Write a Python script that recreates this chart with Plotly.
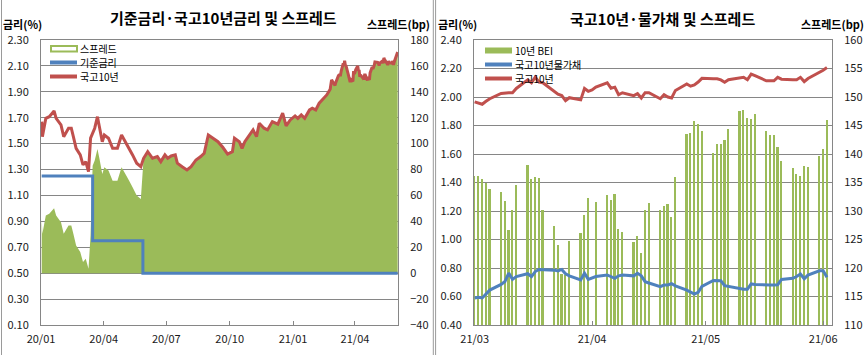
import plotly.graph_objects as go

# ---------------- data: left panel ----------------
ktb_dates_a = [
    "2020-01-02", "2020-01-03", "2020-01-08", "2020-01-13", "2020-01-20", "2020-01-23",
    "2020-01-30", "2020-02-03", "2020-02-10", "2020-02-14", "2020-02-17", "2020-02-21",
    "2020-02-27", "2020-03-02", "2020-03-06", "2020-03-10", "2020-03-13", "2020-03-16",
    "2020-03-19", "2020-03-23", "2020-03-26", "2020-03-30", "2020-04-02", "2020-04-08",
    "2020-04-14", "2020-04-21", "2020-04-27", "2020-05-04", "2020-05-08", "2020-05-13",
    "2020-05-19", "2020-05-25", "2020-05-29", "2020-06-04", "2020-06-11", "2020-06-18",
    "2020-06-23", "2020-06-29", "2020-07-03", "2020-07-08", "2020-07-14", "2020-07-17",
    "2020-07-24", "2020-07-31", "2020-08-06", "2020-08-13", "2020-08-20", "2020-08-25",
    "2020-08-31", "2020-09-07", "2020-09-14", "2020-09-21", "2020-09-28", "2020-10-05",
    "2020-10-08", "2020-10-15", "2020-10-19", "2020-10-23", "2020-10-30", "2020-11-04",
    "2020-11-09", "2020-11-13", "2020-11-20", "2020-11-25", "2020-12-02", "2020-12-10",
    "2020-12-17", "2020-12-22", "2020-12-28", "2021-01-04", "2021-01-08", "2021-01-13",
    "2021-01-18", "2021-01-25", "2021-01-29", "2021-02-03", "2021-02-08", "2021-02-15",
    "2021-02-19", "2021-02-24", "2021-02-26",
]
ktb_vals_a = [
    1.670, 1.554, 1.695, 1.708, 1.752, 1.695,
    1.644, 1.554, 1.619, 1.619, 1.554, 1.464,
    1.413, 1.336, 1.361, 1.284, 1.542, 1.580,
    1.619, 1.708, 1.631, 1.515, 1.567, 1.542,
    1.464, 1.464, 1.567, 1.503, 1.464, 1.413,
    1.349, 1.322, 1.387, 1.438, 1.387, 1.400,
    1.361, 1.413, 1.387, 1.405, 1.413, 1.349,
    1.322, 1.297, 1.322, 1.374, 1.400, 1.426,
    1.567, 1.542, 1.515, 1.472, 1.420, 1.438,
    1.542, 1.515, 1.464, 1.515, 1.567, 1.606,
    1.554, 1.657, 1.619, 1.606, 1.670, 1.650,
    1.735, 1.637, 1.683, 1.714, 1.695, 1.722,
    1.695, 1.760, 1.773, 1.760, 1.812, 1.851,
    1.876, 1.920, 1.992,
]
# base rate (step changes)
base_dates = ["2020-01-02", "2020-03-16", "2020-05-28", "2021-06-02"]
base_vals = [1.25, 0.75, 0.50, 0.50]

# ---------------- data: right panel (daily, 2021-03-01 .. 2021-06-02) ----------------
mar_days = [1, 2, 3, 4, 5, 8, 9, 10, 11, 12, 15, 16, 17, 18, 19, 22, 23, 24, 25, 26, 29, 30, 31]
apr_days = [1, 2, 5, 6, 7, 8, 9, 12, 13, 14, 15, 16, 19, 20, 21, 22, 23, 26, 27, 28, 29, 30]
may_days = [3, 4, 5, 6, 7, 10, 11, 12, 13, 14, 17, 18, 19, 20, 21, 24, 25, 26, 27, 28, 31]
jun_days = [1, 2]
dates_b = ([f"2021-03-{d:02d}" for d in mar_days] + [f"2021-04-{d:02d}" for d in apr_days]
           + [f"2021-05-{d:02d}" for d in may_days] + [f"2021-06-{d:02d}" for d in jun_days])

ktb10_b = [
    1.966, 1.955, 1.949, 1.970, 1.988, 2.025, 2.030, 2.030, 2.030, 2.060, 2.120, 2.100,
    2.140, 2.105, 2.100, 2.040, 2.020, 2.010, 1.975, 1.995, 1.980, 2.060, 2.040,
    2.050, 2.070, 2.100, 2.062, 2.069, 2.016, 2.030, 2.010, 2.023, 1.993, 2.030, 2.030,
    1.988, 2.016, 2.000, 1.993, 2.046, 2.092, 2.076, 2.085, 2.105, 2.131,
    2.128, 2.128, 2.120, 2.103, 2.121, 2.130, 2.138, 2.121, 2.161, 2.150, 2.114, 2.114,
    2.114, 2.138, 2.125, 2.121, 2.121, 2.138, 2.108, 2.130, 2.172,
    2.188, 2.207,
]
linker_b = [
    0.590, 0.595, 0.590, 0.620, 0.645, 0.685, 0.705, 0.765, 0.720, 0.740, 0.760, 0.740,
    0.775, 0.790, 0.790, 0.785, 0.780, 0.790, 0.760, 0.745, 0.716, 0.763, 0.720,
    0.730, 0.740, 0.751, 0.740, 0.728, 0.745, 0.751, 0.745, 0.763, 0.745, 0.704, 0.695,
    0.669, 0.680, 0.681, 0.690, 0.675, 0.645, 0.630, 0.617, 0.630, 0.670,
    0.712, 0.712, 0.710, 0.676, 0.670, 0.655, 0.651, 0.651, 0.688, 0.685, 0.678, 0.680,
    0.680, 0.682, 0.720, 0.728, 0.740, 0.758, 0.725, 0.750, 0.780,
    0.780, 0.735,
]
bei_b = [
    136.1, 136.1, 135.6, 135.0, 133.9, 133.4, 131.7, 126.7, 130.2, 134.6, 138.1, 135.6,
    136.0, 135.8, 130.2, 127.4, 124.0, 118.9, 118.8, 124.8, 126.2, 129.3, 132.2,
    None, 131.5, 132.8, 131.9, 133.0, 126.8, 126.4, 124.6, 125.6, 122.7, 130.2, 131.4,
    130.2, 130.9, 131.2, 129.0, 136.0, 143.5, 143.7, 145.8, 145.3, 144.0,
    140.1, 141.8, 141.8, 142.4, 144.4, 147.5, 147.7, 146.3, 146.1, 147.0, 144.0, 143.4,
    143.4, 141.2, 138.8, 137.5, 136.5, 136.1, 137.9, 137.7, 139.7,
    140.8, 146.0,
]

# full 10y series for the left panel (Mar 2021 onward from the daily data)
ktb_dates = ktb_dates_a + dates_b
ktb_vals = ktb_vals_a + ktb10_b


def base_on(d):
    v = base_vals[0]
    for bd, bv in zip(base_dates, base_vals):
        if d >= bd:
            v = bv
    return v


spread_bp = [round((v - base_on(d)) * 100, 1) for d, v in zip(ktb_dates, ktb_vals)]

# ---------------- styling ----------------
GREEN = "#9BBB59"
RED = "#C0504D"
BLUE = "#4F81BD"
GRID = "#868686"
W, H = 867, 355
FONT = "Noto Sans CJK KR, Noto Sans, sans-serif"


def X(p):
    return p / W


def Y(p):
    return 1 - p / H


fig = go.Figure()

# left panel: spread area on base axis (right side bp), lines on overlay axis (left %)
fig.add_trace(go.Scatter(x=ktb_dates, y=spread_bp, mode="none", fill="tozeroy",
                         fillcolor=GREEN, xaxis="x", yaxis="y", name="스프레드"))
fig.add_trace(go.Scatter(x=base_dates, y=base_vals, mode="lines", line=dict(color=BLUE, width=3, shape="hv"),
                         xaxis="x", yaxis="y2", name="기준금리"))
fig.add_trace(go.Scatter(x=ktb_dates, y=ktb_vals, mode="lines", line=dict(color=RED, width=3),
                         xaxis="x", yaxis="y2", name="국고10년"))

# right panel
fig.add_trace(go.Bar(x=dates_b, y=bei_b, marker=dict(color=GREEN, line=dict(width=0)),
                     width=0.45 * 86400000, xaxis="x2", yaxis="y3", name="10년 BEI"))
fig.add_trace(go.Scatter(x=dates_b, y=linker_b, mode="lines", line=dict(color=BLUE, width=3),
                         xaxis="x2", yaxis="y4", name="국고10년물가채"))
fig.add_trace(go.Scatter(x=dates_b, y=ktb10_b, mode="lines", line=dict(color=RED, width=3),
                         xaxis="x2", yaxis="y4", name="국고10년"))

ydom = [Y(325), Y(40)]
tickfont = dict(family=FONT, size=11, color="#1a1a1a")

common_x = dict(showline=True, linecolor=GRID, linewidth=1, mirror=True, ticks="inside", ticklen=4,
                tickcolor=GRID, showgrid=False, tickfont=tickfont, tickformat="%y/%m",
                ticklabelstandoff=4, type="date", automargin=False, zeroline=False)
common_y = dict(zeroline=False, ticks="", tickfont=tickfont, ticklabelstandoff=9, automargin=False,
                showline=True, linecolor=GRID, linewidth=1)
fig.update_layout(
    template="none",
    xaxis=dict(domain=[X(41), X(398)], anchor="y", range=["2020-01-01", "2021-06-02 12:00"],
               dtick="M3", tick0="2020-01-01", **common_x),
    yaxis=dict(domain=ydom, anchor="x", side="right", range=[-40, 180], dtick=20, tick0=-40,
               showgrid=True, gridcolor=GRID, gridwidth=1, **common_y),
    yaxis2=dict(overlaying="y", anchor="x", side="left", range=[0.10, 2.30], dtick=0.2, tick0=0.10,
                tickformat=".2f", showgrid=False, **common_y),
    xaxis2=dict(domain=[X(474), X(832)], anchor="y3", range=["2021-02-28 20:00", "2021-06-03 08:00"],
                dtick="M1", tick0="2021-03-01", **common_x),
    yaxis3=dict(domain=ydom, anchor="x2", side="right", range=[110, 160], dtick=5, tick0=110,
                showgrid=True, gridcolor=GRID, gridwidth=1, **common_y),
    yaxis4=dict(overlaying="y3", anchor="x2", side="left", range=[0.40, 2.40], dtick=0.2, tick0=0.40,
                tickformat=".2f", showgrid=False, **common_y),
    width=W, height=H, margin=dict(l=0, r=0, t=0, b=0, pad=0), autosize=False,
    paper_bgcolor="white", plot_bgcolor="white", showlegend=False,
    font=dict(family=FONT, color="#1a1a1a"), bargap=0,
)

ann = []


def txt(x, y, s, size=11, bold=False, xanchor="center"):
    ann.append(dict(x=X(x), y=Y(y), xref="paper", yref="paper", text=f"<b>{s}</b>" if bold else s,
                    showarrow=False, xanchor=xanchor, yanchor="middle", borderpad=0,
                    font=dict(family=FONT, size=size, color="#000000")))


txt(224, 17, "기준금리·국고10년금리 및 스프레드", 15, True)
txt(662, 18, "국고10년·물가채 및 스프레드", 15, True)
txt(22, 24, "금리(%)", 11, True)
txt(398, 24, "스프레드(bp)", 11, True)
txt(458, 24, "금리(%)", 11, True)
txt(832, 24, "스프레드(bp)", 11, True)

# legends
txt(79, 48.5, "스프레드", 10, xanchor="left")
txt(79, 62.5, "기준금리", 10, xanchor="left")
txt(79, 76.5, "국고10년", 10, xanchor="left")
txt(514, 50.5, "10년 BEI", 10, xanchor="left")
txt(514, 64.5, "국고10년물가채", 10, xanchor="left")
txt(514, 78.5, "국고10년", 10, xanchor="left")

shapes = []


def line(x0, y0, x1, y1, color, w):
    shapes.append(dict(type="line", xref="paper", yref="paper", x0=X(x0), y0=Y(y0), x1=X(x1), y1=Y(y1),
                       line=dict(color=color, width=w)))


shapes.append(dict(type="rect", xref="paper", yref="paper", x0=X(51), x1=X(77), y0=Y(51.5), y1=Y(46),
                   line=dict(color=GREEN, width=2), fillcolor="white"))
line(50, 62.5, 77, 62.5, BLUE, 4)
line(50, 76.5, 77, 76.5, RED, 4)
shapes.append(dict(type="rect", xref="paper", yref="paper", x0=X(485), x1=X(512), y0=Y(53.5), y1=Y(47.5),
                   line=dict(width=0), fillcolor=GREEN))
line(485, 64.5, 512, 64.5, BLUE, 4)
line(485, 78.5, 512, 78.5, RED, 4)
# frame lines
line(1.5, 0, 1.5, H, "#9a9a9a", 1)
line(433.3, 0, 433.3, H, "#9a9a9a", 1)
line(435.6, 0, 435.6, H, "#9a9a9a", 1)

fig.update_layout(annotations=ann, shapes=shapes)
fig.write_html("out.html", config={"displayModeBar": False},
               post_script="document.body.style.margin='0';document.body.style.overflow='hidden';")
